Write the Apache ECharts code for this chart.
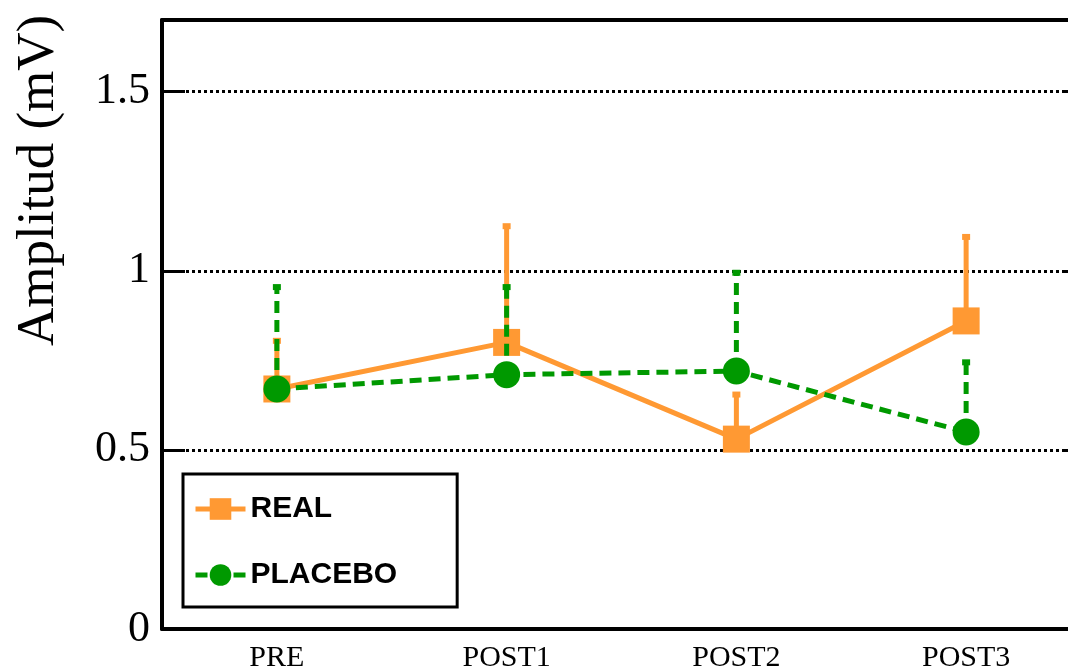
<!DOCTYPE html>
<html>
<head>
<meta charset="utf-8">
<script src="https://cdn.jsdelivr.net/npm/echarts@6/dist/echarts.min.js"></script>
<style>
html,body{margin:0;padding:0;background:#fff;}
#chart{width:1068px;height:671px;}
</style>
</head>
<body>
<div id="chart"></div>
<script>
// datos
var categorias = ['PRE', 'POST1', 'POST2', 'POST3'];
var realMedia = [0.67, 0.80, 0.53, 0.86];
var realSup = [0.81, 1.13, 0.66, 1.10];
var placeboMedia = [0.67, 0.71, 0.72, 0.55];
var placeboSup = [0.96, 0.96, 1.00, 0.75];

var naranja = '#FF9933';
var verde = '#009900';

function errData(media, sup) {
    var out = [];
    for (var i = 0; i < media.length; i++) {
        out.push([i, media[i], sup[i]]);
    }
    return out;
}

function errRender(color, dash) {
    return function (params, api) {
        var p = api.coord([api.value(0), api.value(1)]);
        var t = api.coord([api.value(0), api.value(2)]);
        return {
            type: 'group',
            children: [{
                type: 'line',
                shape: {x1: p[0], y1: p[1], x2: p[0], y2: t[1]},
                style: {stroke: color, lineWidth: 5, lineDash: dash}
            }, {
                type: 'rect',
                shape: {x: p[0] - 4, y: t[1] - 1, width: 8, height: 6},
                style: {fill: color}
            }]
        };
    };
}

var myChart = echarts.init(document.getElementById('chart'));

var option = {
    animation: false,
    grid: {left: 162, top: 20, width: 919, height: 609, outerBoundsMode: 'none', containLabel: false},
    graphic: [{
        type: 'text',
        x: 13,
        y: 346,
        rotation: Math.PI / 2,
        style: {
            text: 'Amplitud (mV)',
            font: '53px "Liberation Serif", "Times New Roman", serif',
            fill: '#000'
        }
    }],
    legend: {
        left: 183,
        top: 474,
        orient: 'vertical',
        itemWidth: 50,
        itemHeight: 27,
        itemGap: 36,
        padding: [20, 60, 17, 10],
        borderColor: '#000',
        borderWidth: 3,
        backgroundColor: '#fff',
        lineStyle: {width: 5},
        textStyle: {
            fontFamily: '"Liberation Sans", Arial, sans-serif',
            fontWeight: 'bold',
            fontSize: 30,
            color: '#000'
        },
        data: ['REAL', 'PLACEBO']
    },
    xAxis: [{
        type: 'category',
        data: categorias,
        position: 'bottom',
        axisLine: {onZero: false, lineStyle: {color: '#000', width: 4}},
        axisTick: {inside: true, length: 18, lineStyle: {color: '#000', width: 3}},
        axisLabel: {
            color: '#000',
            fontFamily: '"Liberation Serif", "Times New Roman", serif',
            fontSize: 30,
            margin: 14
        }
    }, {
        type: 'category',
        data: categorias,
        position: 'top',
        axisLine: {onZero: false, lineStyle: {color: '#000', width: 4}},
        axisTick: {inside: true, length: 18, lineStyle: {color: '#000', width: 3}},
        axisLabel: {show: false}
    }],
    yAxis: [{
        type: 'value',
        min: 0,
        max: 1.7,
        interval: 0.5,
        axisLine: {show: true, onZero: false, lineStyle: {color: '#000', width: 4}},
        axisTick: {show: true, inside: true, length: 23, lineStyle: {color: '#000', width: 3}},
        axisLabel: {
            color: '#000',
            fontFamily: '"Liberation Serif", "Times New Roman", serif',
            fontSize: 44,
            margin: 12,
            showMaxLabel: false
        },
        splitLine: {show: true, lineStyle: {color: '#000', width: 3, type: [3, 3]}}
    }, {
        type: 'value',
        min: 0,
        max: 1.7,
        interval: 0.5,
        position: 'right',
        axisLine: {show: true, onZero: false, lineStyle: {color: '#000', width: 4}},
        axisTick: {show: true, inside: true, length: 18, lineStyle: {color: '#000', width: 3}},
        axisLabel: {show: false},
        splitLine: {show: false}
    }],
    series: [{
        name: 'REAL',
        type: 'line',
        data: realMedia,
        z: 2,
        symbol: 'rect',
        symbolSize: 27,
        itemStyle: {color: naranja},
        lineStyle: {color: naranja, width: 5}
    }, {
        name: 'PLACEBO',
        type: 'line',
        data: placeboMedia,
        z: 4,
        symbol: 'circle',
        symbolSize: 27,
        itemStyle: {color: verde},
        lineStyle: {color: verde, width: 5, type: [12, 7]}
    }, {
        name: 'REAL',
        type: 'custom',
        data: errData(realMedia, realSup),
        z: 2,
        itemStyle: {color: naranja},
        renderItem: errRender(naranja, null),
        silent: true
    }, {
        name: 'PLACEBO',
        type: 'custom',
        data: errData(placeboMedia, placeboSup),
        z: 3,
        itemStyle: {color: verde},
        renderItem: errRender(verde, [12, 7]),
        silent: true
    }]
};
myChart.setOption(option, true);
</script>
</body>
</html>
